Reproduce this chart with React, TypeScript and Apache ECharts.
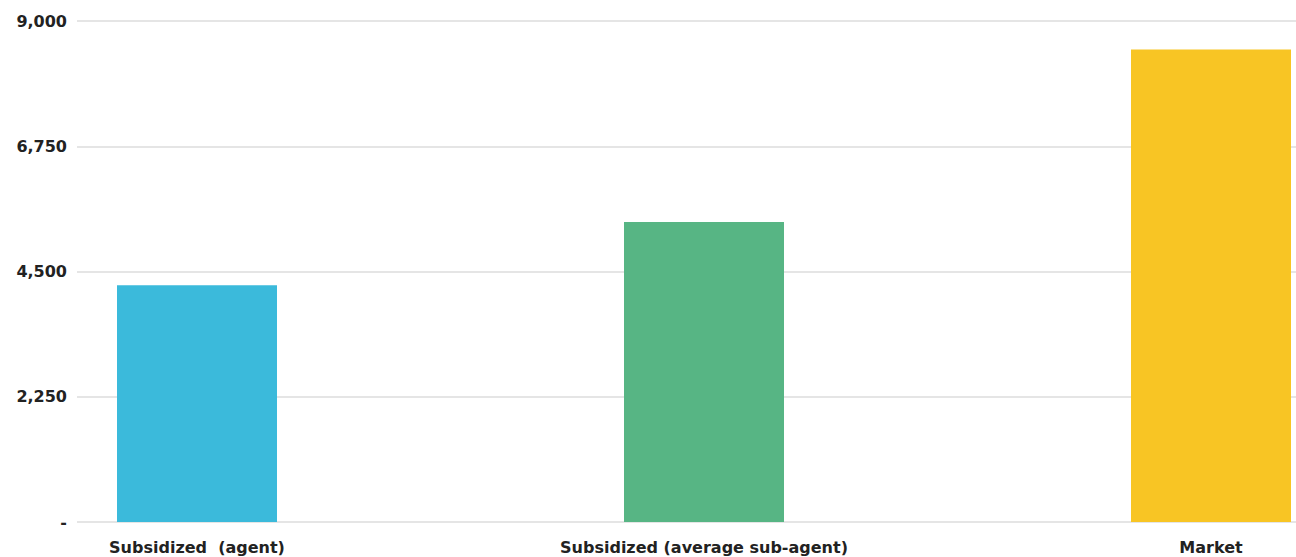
import React, { useEffect, useRef } from "react";
import * as echarts from "echarts";

const categories = ["Subsidized  (agent)", "Subsidized (average sub-agent)", "Market"];
const values = [4255, 5390, 8490];
const barColors = ["#3BBADB", "#57B584", "#F8C524"];
const yTicks = [0, 2250, 4500, 6750, 9000];

const fontFamily = "'DejaVu Sans', sans-serif";
const textColor = "#222222";

export default function App() {
  const ref = useRef<HTMLDivElement>(null);

  useEffect(() => {
    if (!ref.current) return;
    const chart = echarts.init(ref.current, null, { renderer: "svg" });
    const yMax = yTicks[yTicks.length - 1];
    const interval = yTicks[1] - yTicks[0];
    const fmt = (v: number) => (v === 0 ? "-" : v.toLocaleString("en-US"));

    chart.setOption({
      animation: false,
      grid: [
        // wide grid carrying the value axis and its gridlines
        { left: 77, right: 0, top: 21, bottom: 35, containLabel: false },
        // inner grid where the bars sit, category points at the bar centres
        { left: 197, right: 85, top: 21, bottom: 35, containLabel: false },
      ],
      xAxis: [
        { type: "category", gridIndex: 0, data: [""], show: false },
        {
          type: "category",
          gridIndex: 1,
          data: categories,
          boundaryGap: false,
          axisLine: { show: false },
          axisTick: { show: false },
          axisLabel: {
            color: textColor,
            fontFamily,
            fontWeight: "bold",
            fontSize: 16,
            margin: 17,
            interval: 0,
          },
        },
      ],
      yAxis: [
        {
          type: "value",
          gridIndex: 0,
          min: 0,
          max: yMax,
          interval,
          axisLine: { show: false },
          axisTick: { show: false },
          splitLine: { lineStyle: { color: "#dddddd", width: 1.5 } },
          axisLabel: {
            color: textColor,
            fontFamily,
            fontWeight: "bold",
            fontSize: 16,
            margin: 10,
            padding: [5, 0, 0, 0],
            formatter: fmt,
          },
        },
        {
          type: "value",
          gridIndex: 1,
          min: 0,
          max: yMax,
          interval,
          show: false,
          splitLine: { show: false },
        },
      ],
      series: [
        {
          type: "bar",
          xAxisIndex: 1,
          yAxisIndex: 1,
          barWidth: 160,
          data: values.map((v, i) => ({ value: v, itemStyle: { color: barColors[i] } })),
        },
      ],
    });

    return () => chart.dispose();
  }, []);

  return (
    <div
      ref={ref}
      style={{ position: "fixed", left: 0, top: 0, width: 1296, height: 557, background: "#ffffff" }}
    />
  );
}
